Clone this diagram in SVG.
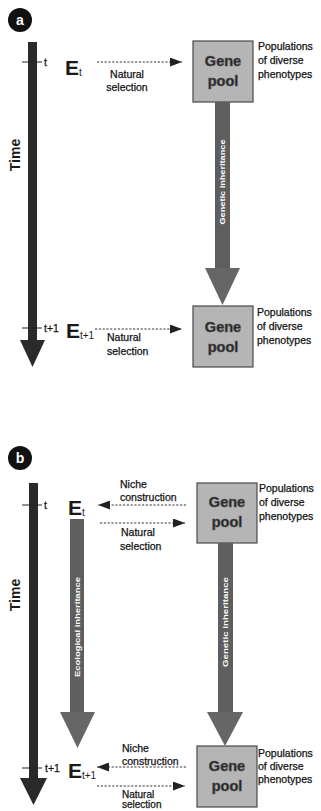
<svg xmlns="http://www.w3.org/2000/svg" width="321" height="811" viewBox="0 0 321 811">
<style>
.lbl{font-family:"Liberation Sans","DejaVu Sans",sans-serif;font-size:10.5px;fill:#111;stroke:#111;stroke-width:0.25}
.tick{stroke:#222;stroke-width:1}
.time{fill:#2a2a2a}
.E{font-family:"Liberation Sans",sans-serif;font-weight:bold;font-size:21px;fill:#1a1a1a}
.sub{font-family:"Liberation Sans",sans-serif;font-size:10px;fill:#1a1a1a}
.box{fill:#b5b5b5;stroke:#4a4a4a;stroke-width:1.2}
.gp{font-family:"Liberation Sans",sans-serif;font-weight:bold;font-size:14.5px;fill:#222;text-anchor:middle;stroke:#555;stroke-width:0.6}
.dash{stroke:#333;stroke-width:1;stroke-dasharray:2.2 1.6;fill:none;marker-end:url(#ah)}
.stem{fill:#5e5e5e}
.head{fill:#666}
.inh{font-family:"Liberation Sans",sans-serif;font-weight:bold;font-size:7px;fill:#fff;text-anchor:middle;dominant-baseline:central}
.tm{font-family:"Liberation Sans",sans-serif;font-weight:bold;font-size:14px;fill:#1a1a1a;text-anchor:middle;dominant-baseline:central}
.badge{fill:#111}
.bt{font-family:"Liberation Sans",sans-serif;font-weight:bold;font-size:14px;fill:#fff;text-anchor:middle;dominant-baseline:central}
</style>
<defs>
<marker id="ah" markerUnits="userSpaceOnUse" markerWidth="12" markerHeight="9" refX="12" refY="4.5" orient="auto">
<path d="M0,0 L12,4.5 L0,9 z" fill="#222"/>
</marker>
</defs>
<rect width="321" height="811" fill="#fff"/>

<!-- Panel a -->
<g id="badge-a"><circle class="badge" cx="20" cy="20" r="12"/><text class="bt" x="20" y="20">a</text></g>
<g id="time-a">
<rect class="time" x="28" y="42" width="9" height="298"/>
<polygon class="time" points="20,340 45,340 32.5,367"/>
<text class="tm" transform="translate(15,155) rotate(-90)">Time</text>
<line class="tick" x1="22" y1="62" x2="42" y2="62"/>
<text class="lbl" x="44" y="66">t</text>
<line class="tick" x1="22" y1="328" x2="42" y2="328"/>
<text class="lbl" x="44" y="332">t+1</text>
</g>
<g id="Et-a"><text class="E" x="65" y="75">E</text><text class="sub" x="79" y="76">t</text></g>
<g id="Et1-a"><text class="E" x="66" y="338">E</text><text class="sub" x="80" y="339">t+1</text></g>
<g id="genepool-a1">
<rect class="box" x="193" y="41" width="60" height="61"/>
<text class="gp" x="223" y="66">Gene</text><text class="gp" x="223" y="86">pool</text>
<text class="lbl" x="258" y="50">Populations</text><text class="lbl" x="258" y="64">of diverse</text><text class="lbl" x="258" y="78">phenotypes</text>
</g>
<g id="genepool-a2">
<rect class="box" x="193" y="306" width="60" height="61"/>
<text class="gp" x="223" y="332">Gene</text><text class="gp" x="223" y="352">pool</text>
<text class="lbl" x="257" y="316">Populations</text><text class="lbl" x="257" y="330">of diverse</text><text class="lbl" x="257" y="344">phenotypes</text>
</g>
<g id="connectors-a">
<line class="dash" x1="97" y1="62" x2="182" y2="62"/>
<text class="lbl" x="127" y="78" text-anchor="middle">Natural</text>
<text class="lbl" x="127" y="91" text-anchor="middle">selection</text>
<line class="dash" x1="95" y1="329" x2="182" y2="329"/>
<text class="lbl" x="107" y="341">Natural</text>
<text class="lbl" x="107" y="355">selection</text>
<rect class="stem" x="215" y="102" width="15" height="166"/>
<polygon class="head" points="205,268 240,268 222.5,305"/>
<text class="inh" transform="translate(222.5,182) rotate(-90)" textLength="85" lengthAdjust="spacingAndGlyphs">Genetic inheritance</text>
</g>

<!-- Panel b -->
<g id="badge-b"><circle class="badge" cx="20" cy="458" r="12"/><text class="bt" x="20" y="458">b</text></g>
<g id="time-b">
<rect class="time" x="29" y="483" width="9" height="295"/>
<polygon class="time" points="20,778 47,778 33.5,805"/>
<text class="tm" transform="translate(15,595) rotate(-90)">Time</text>
<line class="tick" x1="22" y1="505" x2="42" y2="505"/>
<text class="lbl" x="44" y="509">t</text>
<line class="tick" x1="22" y1="768" x2="42" y2="768"/>
<text class="lbl" x="45" y="772">t+1</text>
</g>
<g id="Et-b"><text class="E" x="68" y="515">E</text><text class="sub" x="82" y="516">t</text></g>
<g id="Et1-b"><text class="E" x="68" y="778">E</text><text class="sub" x="82" y="779">t+1</text></g>
<g id="genepool-b1">
<rect class="box" x="197" y="483" width="60" height="60"/>
<text class="gp" x="227" y="507">Gene</text><text class="gp" x="227" y="527">pool</text>
<text class="lbl" x="259" y="492">Populations</text><text class="lbl" x="259" y="506">of diverse</text><text class="lbl" x="259" y="520">phenotypes</text>
</g>
<g id="genepool-b2">
<rect class="box" x="197" y="746" width="60" height="61"/>
<text class="gp" x="227" y="771">Gene</text><text class="gp" x="227" y="791">pool</text>
<text class="lbl" x="258" y="757">Populations</text><text class="lbl" x="258" y="770">of diverse</text><text class="lbl" x="258" y="783">phenotypes</text>
</g>
<g id="connectors-b">
<line class="dash" x1="186" y1="505" x2="98" y2="505"/>
<text class="lbl" x="120" y="488">Niche</text>
<text class="lbl" x="120" y="501">construction</text>
<line class="dash" x1="100" y1="523" x2="185" y2="523"/>
<text class="lbl" x="121" y="536">Natural</text>
<text class="lbl" x="120" y="550">selection</text>
<line class="dash" x1="186" y1="767" x2="97" y2="767"/>
<text class="lbl" x="122" y="752">Niche</text>
<text class="lbl" x="122" y="765">construction</text>
<line class="dash" x1="97" y1="786" x2="185" y2="786"/>
<text class="lbl" x="122" y="797.5" style="font-size:10px">Natural</text>
<text class="lbl" x="122" y="808" style="font-size:10px">selection</text>
<rect class="stem" x="70" y="519" width="14" height="193" fill="#6e6e6e"/>
<polygon class="head" points="60,712 95,712 77.5,748"/>
<text class="inh" transform="translate(77,627) rotate(-90)" textLength="100" lengthAdjust="spacingAndGlyphs">Ecological inheritance</text>
<rect class="stem" x="218" y="543" width="15" height="169"/>
<polygon class="head" points="207,712 243,712 225,746"/>
<text class="inh" transform="translate(225.5,622) rotate(-90)" textLength="90" lengthAdjust="spacingAndGlyphs">Genetic inheritance</text>
</g>
</svg>
